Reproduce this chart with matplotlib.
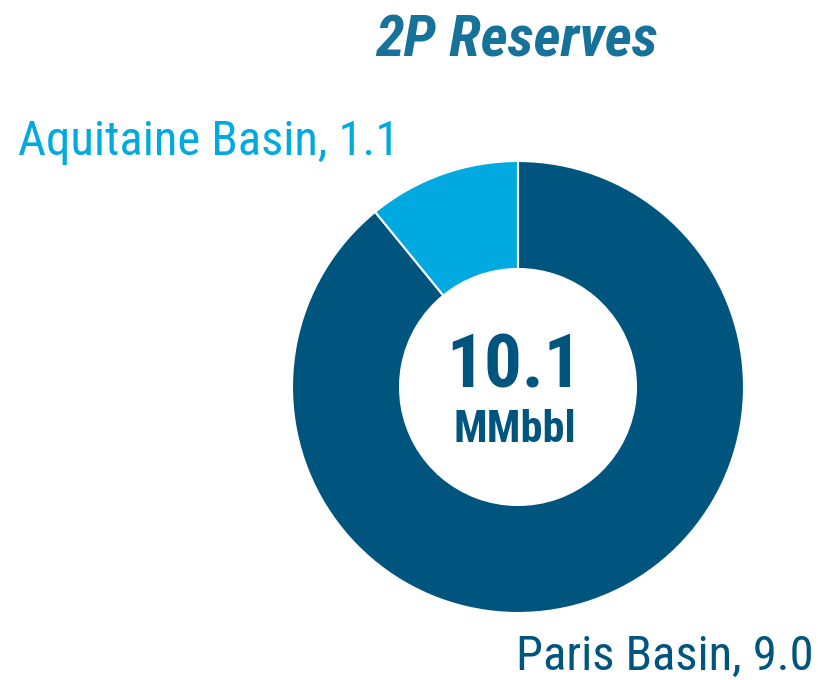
import matplotlib.pyplot as plt

# data
labels = ['Paris Basin', 'Aquitaine Basin']
values = [9.0, 1.1]
colors = ['#00557F', '#00A9E0']
title = '2P Reserves'
total_text = '10.1'
unit_text = 'MMbbl'

font = ['Roboto Condensed', 'DejaVu Sans']

fig = plt.figure(figsize=(8.18, 6.8), dpi=100)
ax = fig.add_axes([0, 0, 1, 1])

ax.pie(values, colors=colors, startangle=90, counterclock=False,
       center=(518, 293), radius=226,
       wedgeprops=dict(width=108, edgecolor='white', linewidth=1.5))

# pie resets the limits, so set them afterwards
ax.set_xlim(0, 818)
ax.set_ylim(0, 680)
ax.set_aspect('equal')
ax.axis('off')

ax.text(516, 639, title, fontsize=42, fontweight='bold', fontstyle='italic',
        color='#17729A', ha='center', va='center', family=font)
ax.text(18, 538, f'{labels[1]}, {values[1]:.1f}', fontsize=35, color=colors[1],
        ha='left', va='center', family=font)
ax.text(814, 23, f'{labels[0]}, {values[0]:.1f}', fontsize=35, color=colors[0],
        ha='right', va='center', family=font)
ax.text(514, 313, total_text, fontsize=54, fontweight='bold', color=colors[0],
        ha='center', va='center', family=font)
ax.text(515, 250, unit_text, fontsize=32, fontweight='bold', color=colors[0],
        ha='center', va='center', family=font)

fig.savefig('out.png', dpi=100)
